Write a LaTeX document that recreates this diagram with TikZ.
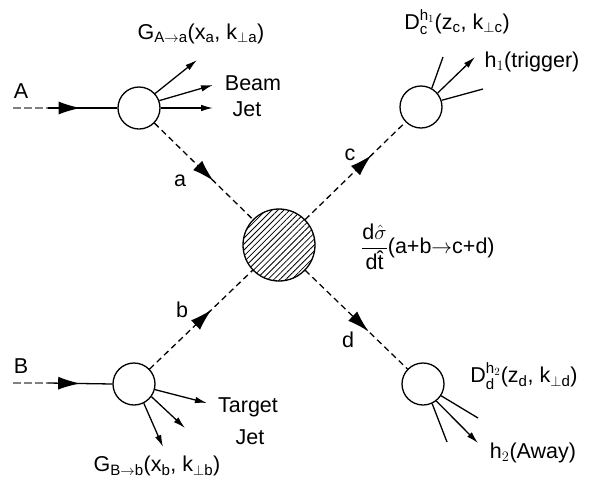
\documentclass[tikz,border=0pt]{standalone}
\usepackage{amsmath}
\usepackage{fontspec}
\setmainfont{Liberation Sans}
\usetikzlibrary{arrows.meta,decorations.markings,patterns.meta}
\begin{document}
\begin{tikzpicture}[x=1pt,y=-1pt,
  every node/.style={font=\fontsize{21.5}{25}\selectfont, inner sep=0pt},
  blobsmall/.style={circle, draw, line width=1.3pt, minimum size=42pt, inner sep=0pt},
  blobbig/.style={circle, draw, line width=1.3pt, minimum size=72pt, inner sep=0pt,
    pattern={Lines[angle=45,distance=4.2pt,line width=0.8pt]}},
  solidline/.style={line width=1.3pt},
  feed/.style={line width=1.3pt, gray, dash pattern=on 8pt off 3pt},
  parton/.style={line width=1.3pt, dash pattern=on 6pt off 4pt},
  outarrow/.style={line width=1.3pt, -{Latex[length=12pt,width=6.5pt]}},
  midarrow/.style={postaction={decorate}, decoration={markings,
    mark=at position #1 with {\arrow{Latex[length=22pt,width=13pt]}}}}
]
\useasboundingbox (0,0) rectangle (592,488);

% vertices
\node[blobsmall] (tl) at (139,108) {};
\node[blobsmall] (tr) at (421,107) {};
\node[blobsmall] (bl) at (134,384) {};
\node[blobsmall] (br) at (423,384) {};
\node[blobbig] (hard) at (279,245) {};

% incoming hadrons
\coordinate (A0) at (13,108);
\coordinate (A1) at (48,108);
\coordinate (B0) at (13,383);
\coordinate (B1) at (48,383);
\draw[feed] (A0) -- (A1);
\draw[solidline, midarrow=0.47] (A1) -- (tl.west);
\draw[feed] (B0) -- (B1);
\draw[solidline, midarrow=0.5] (B1) -- (bl.west);
\node (lA) at (21,91) {A};
\node (lB) at (21,366) {B};

% partons
\draw[parton, midarrow=0.6] (tl) -- (hard);
\draw[parton, midarrow=0.6] (bl) -- (hard);
\draw[parton, midarrow=0.66] (hard) -- (tr);
\draw[parton, midarrow=0.62] (hard) -- (br);
\node (la) at (180,181) {a};
\node (lb) at (182,310) {b};
\node (lc) at (350,155) {c};
\node (ld) at (348,340) {d};

% beam jet
\coordinate (ga1) at (197,60);
\coordinate (ga2) at (213,85);
\coordinate (ga3) at (213,108);
\draw[outarrow] (tl.42) -- (ga1);
\draw[outarrow] (tl.20) -- (ga2);
\draw[outarrow] (tl.0) -- (ga3);
\node (beam) at (253,83) {Beam};
\node (jet1) at (247,109) {Jet};
\node (GA) at (201,34) {G$_{\text{A}\to\text{a}}$(x$_{\text{a}}$, k$_{\perp\text{a}}$)};

% target jet
\coordinate (gb1) at (207,403);
\coordinate (gb2) at (185,428);
\coordinate (gb3) at (163,447);
\draw[outarrow] (bl.-15) -- (gb1);
\draw[outarrow] (bl.-36) -- (gb2);
\draw[outarrow] (bl.-63) -- (gb3);
\node (target) at (248,407) {Target};
\node (jet2) at (250,437) {Jet};
\node (GB) at (157,466) {G$_{\text{B}\to\text{b}}$(x$_{\text{b}}$, k$_{\perp\text{b}}$)};

% trigger side
\coordinate (c1) at (443,57);
\coordinate (c2) at (475,57);
\coordinate (c3) at (483,89);
\draw[solidline] (tr.60) -- (c1);
\draw[outarrow] (tr.40) -- (c2);
\draw[solidline] (tr.18) -- (c3);
\node (h1) at (532,62) {h$_1$(trigger)};
\node (Dc) at (457,22) {D$_{\text{c}}^{\text{h}_1}$(z$_{\text{c}}$, k$_{\perp\text{c}}$)};

% away side
\coordinate (d1) at (447,442);
\coordinate (d2) at (478,443);
\coordinate (d3) at (478,418);
\draw[solidline] (br.-65) -- (d1);
\draw[outarrow] (br.-52) -- (d2);
\draw[solidline] (br.-33) -- (d3);
\node (h2) at (533,453) {h$_2$(Away)};
\node (Dd) at (524,376) {D$_{\text{d}}^{\text{h}_2}$(z$_{\text{d}}$, k$_{\perp\text{d}}$)};

% cross section
\node[anchor=west] (xs) at (361,247) {$\dfrac{\text{d}\hat{\sigma}}{\text{d\^{t}}}$(a+b$\to$c+d)};
\end{tikzpicture}
\end{document}
